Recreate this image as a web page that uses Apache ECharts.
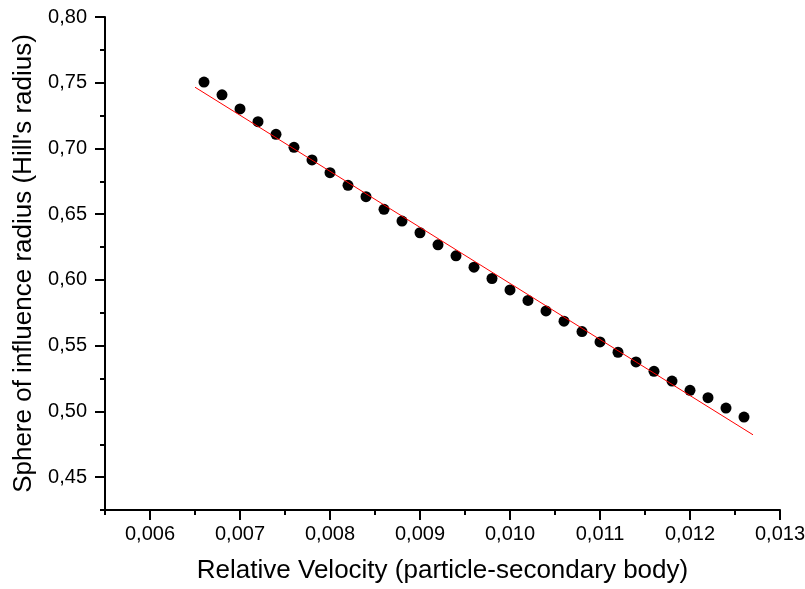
<!DOCTYPE html>
<html>
<head>
<meta charset="utf-8">
<script src="https://cdn.jsdelivr.net/npm/echarts@6/dist/echarts.min.js"></script>
<style>
html,body{margin:0;padding:0;background:#fff;}
#chart{width:805px;height:589px;}
</style>
</head>
<body>
<div id="chart"></div>
<script>
var velocity = [0.0066,0.0068,0.0070,0.0072,0.0074,0.0076,0.0078,0.0080,0.0082,0.0084,
  0.0086,0.0088,0.0090,0.0092,0.0094,0.0096,0.0098,0.0100,0.0102,0.0104,
  0.0106,0.0108,0.0110,0.0112,0.0114,0.0116,0.0118,0.0120,0.0122,0.0124,0.0126];
var radius = [0.7505,0.7408,0.7301,0.7204,0.7108,0.7009,0.6913,0.6816,0.6720,0.6633,
  0.6537,0.6448,0.6359,0.6267,0.6183,0.6097,0.6011,0.5924,0.5844,0.5764,
  0.5686,0.5607,0.5528,0.5450,0.5376,0.5305,0.5231,0.5160,0.5104,0.5025,0.4957];
var fitX = [0.0065, 0.0127];
var fitY = [0.7466, 0.4822];
var xMajorTicks = [0.006,0.007,0.008,0.009,0.010,0.011,0.012,0.013];
var xMinorTicks = [0.0055,0.0065,0.0075,0.0085,0.0095,0.0105,0.0115,0.0125];
var yMajorTicks = [0.45,0.50,0.55,0.60,0.65,0.70,0.75,0.80];
var yMinorTicks = [0.425,0.475,0.525,0.575,0.625,0.675,0.725,0.775];
var xTitle = 'Relative Velocity (particle-secondary body)';
var yTitle = "Sphere of influence radius (Hill's radius)";

var FONT = '"Liberation Sans", Arial, sans-serif';
var chart = echarts.init(document.getElementById('chart'), null, {renderer:'canvas'});
var scatterData = velocity.map(function(v,i){return [v, radius[i]];});
var fitData = fitX.map(function(v,i){return [v, fitY[i]];});

function baseX(extra){
  return Object.assign({
    type:'value', min:0.0055, max:0.013, gridIndex:0, position:'bottom',
    splitLine:{show:false}
  }, extra);
}
function baseY(extra){
  return Object.assign({
    type:'value', min:0.425, max:0.80, gridIndex:0, position:'left',
    splitLine:{show:false}
  }, extra);
}

chart.setOption({
  animation:false,
  backgroundColor:'#fff',
  grid:{left:105, right:25, top:17, bottom:79, outerBoundsMode:'none', containLabel:false},
  xAxis:[
    baseX({
      name:xTitle, nameLocation:'middle', nameGap:48,
      nameTextStyle:{fontFamily:FONT, fontSize:26, color:'#000'},
      axisLine:{show:true, lineStyle:{color:'#000', width:2}},
      axisTick:{show:true, inside:false, length:10, lineStyle:{color:'#000', width:2}, customValues:xMajorTicks},
      axisLabel:{show:true, margin:14, fontFamily:FONT, fontSize:20, color:'#000', customValues:xMajorTicks,
        formatter:function(v){return v.toFixed(3).replace('.', ',');}}
    }),
    baseX({
      axisLine:{show:false},
      axisTick:{show:true, inside:false, length:5, lineStyle:{color:'#000', width:2}, customValues:xMinorTicks},
      axisLabel:{show:false}
    })
  ],
  yAxis:[
    baseY({
      name:yTitle, nameLocation:'middle', nameGap:64, nameRotate:90,
      nameTextStyle:{fontFamily:FONT, fontSize:26, color:'#000'},
      axisLine:{show:true, lineStyle:{color:'#000', width:2}},
      axisTick:{show:true, inside:false, length:10, lineStyle:{color:'#000', width:2}, customValues:yMajorTicks},
      axisLabel:{show:true, margin:18, fontFamily:FONT, fontSize:20, color:'#000', customValues:yMajorTicks,
        formatter:function(v){return v.toFixed(2).replace('.', ',');}}
    }),
    baseY({
      axisLine:{show:false},
      axisTick:{show:true, inside:false, length:5, lineStyle:{color:'#000', width:2}, customValues:yMinorTicks},
      axisLabel:{show:false}
    })
  ],
  series:[
    {
      type:'scatter', xAxisIndex:0, yAxisIndex:0, data:scatterData,
      symbol:'circle', symbolSize:11, itemStyle:{color:'#000', opacity:1}, z:2
    },
    {
      type:'line', xAxisIndex:0, yAxisIndex:0, data:fitData,
      showSymbol:false, symbol:'none', lineStyle:{color:'#ff0000', width:1}, z:3
    }
  ]
});
</script>
</body>
</html>
